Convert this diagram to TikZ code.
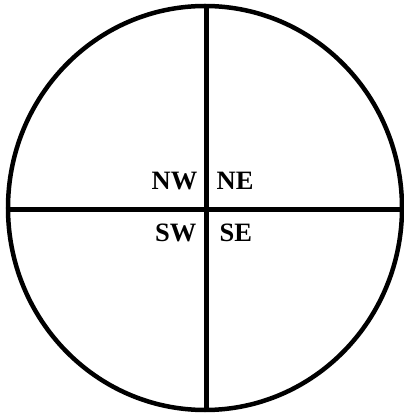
\documentclass[tikz,border=0pt]{standalone}
\usepackage{fontspec}
\setmainfont{Liberation Serif}
\begin{document}
\begin{tikzpicture}[x=1pt,y=1pt,
  lbl/.style={inner sep=0pt,font=\fontsize{26.5}{30}\selectfont\bfseries}]
\useasboundingbox (0,0) rectangle (404,418);
\coordinate (c) at (205,210);
\draw[line width=4.5pt] (c) ellipse [x radius=197, y radius=202];
\coordinate (t) at (206,410);
\coordinate (b) at (206,6);
\coordinate (l) at (8,208.5);
\coordinate (r) at (402,208.5);
\draw[line width=5pt] (t) -- (b);
\draw[line width=5pt] (l) -- (r);
\node[lbl,anchor=base east] (nw) at (197.5,228.5) {NW};
\node[lbl,anchor=base west] (ne) at (216.5,228.5) {NE};
\node[lbl,anchor=base east] (sw) at (196.5,176) {SW};
\node[lbl,anchor=base west] (se) at (219.5,176) {SE};
\end{tikzpicture}
\end{document}
